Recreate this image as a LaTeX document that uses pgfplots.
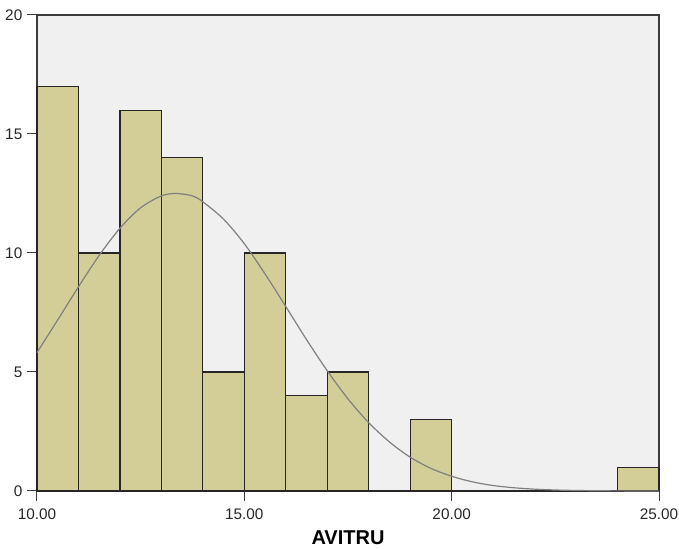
\documentclass[border=0pt]{standalone}
\usepackage{pgfplots}
\pgfplotsset{compat=1.18}
\usepackage{fontspec}
\setmainfont{Liberation Sans}
\definecolor{barfill}{RGB}{211,206,151}
\definecolor{plotbg}{RGB}{240,240,240}
\definecolor{curvegray}{RGB}{128,128,128}
\definecolor{axisgray}{RGB}{60,60,60}
\begin{document}
\begin{tikzpicture}[x=0.75pt,y=0.75pt]
\useasboundingbox (-37,-59) rectangle (642,491);
\begin{axis}[
  at={(0,0)}, anchor=south west,
  scale only axis,
  width=466.5pt, height=357pt,
  xmin=10, xmax=25, ymin=0, ymax=20,
  axis background/.style={fill=plotbg},
  axis line style={axisgray, line width=0.9pt},
  xtick={10,15,20,25},
  xticklabels={10.00,15.00,20.00,25.00},
  ytick={0,5,10,15,20},
  tick align=outside,
  major tick length=7.5pt,
  tick style={axisgray, line width=0.75pt},
  xtick pos=bottom, ytick pos=left,
  /pgf/number format/assume math mode=true,
  ticklabel style={font=\fontsize{11.5}{13}\selectfont, text=black!85},
  xticklabel style={yshift=-2pt},
  yticklabel style={xshift=0pt},
  xlabel={AVITRU},
  xlabel style={font=\bfseries\fontsize{15}{18}\selectfont, at={(axis description cs:0.5,-0.099)}, anchor=center},
  clip=false,
]
\addplot[ybar interval, fill=barfill, draw=black!85, line width=0.9pt] coordinates {
  (10,17) (11,10) (12,16) (13,14) (14,5) (15,10) (16,4) (17,5) (18,0) (19,3) (20,0) (24,1) (25,1)
};
\addplot[curvegray, line width=0.9pt, smooth] coordinates {
  (10,5.82) (10.5,7.19) (11,8.58) (11.5,9.90) (12,11.04) (12.5,11.90) (13,12.40) (13.35,12.50)
  (13.75,12.40) (14,12.15) (14.5,11.42) (15,10.39) (15.5,9.12) (16,7.75) (16.5,6.36) (17,5.05)
  (17.5,3.87) (18,2.87) (18.5,2.06) (19,1.42) (19.5,0.95) (20,0.62) (20.5,0.385) (21,0.23)
  (21.5,0.136) (22,0.077) (22.5,0.042) (23,0.022) (23.5,0.011) (24,0.005) (25,0.001)
};
\end{axis}
\end{tikzpicture}
\end{document}
